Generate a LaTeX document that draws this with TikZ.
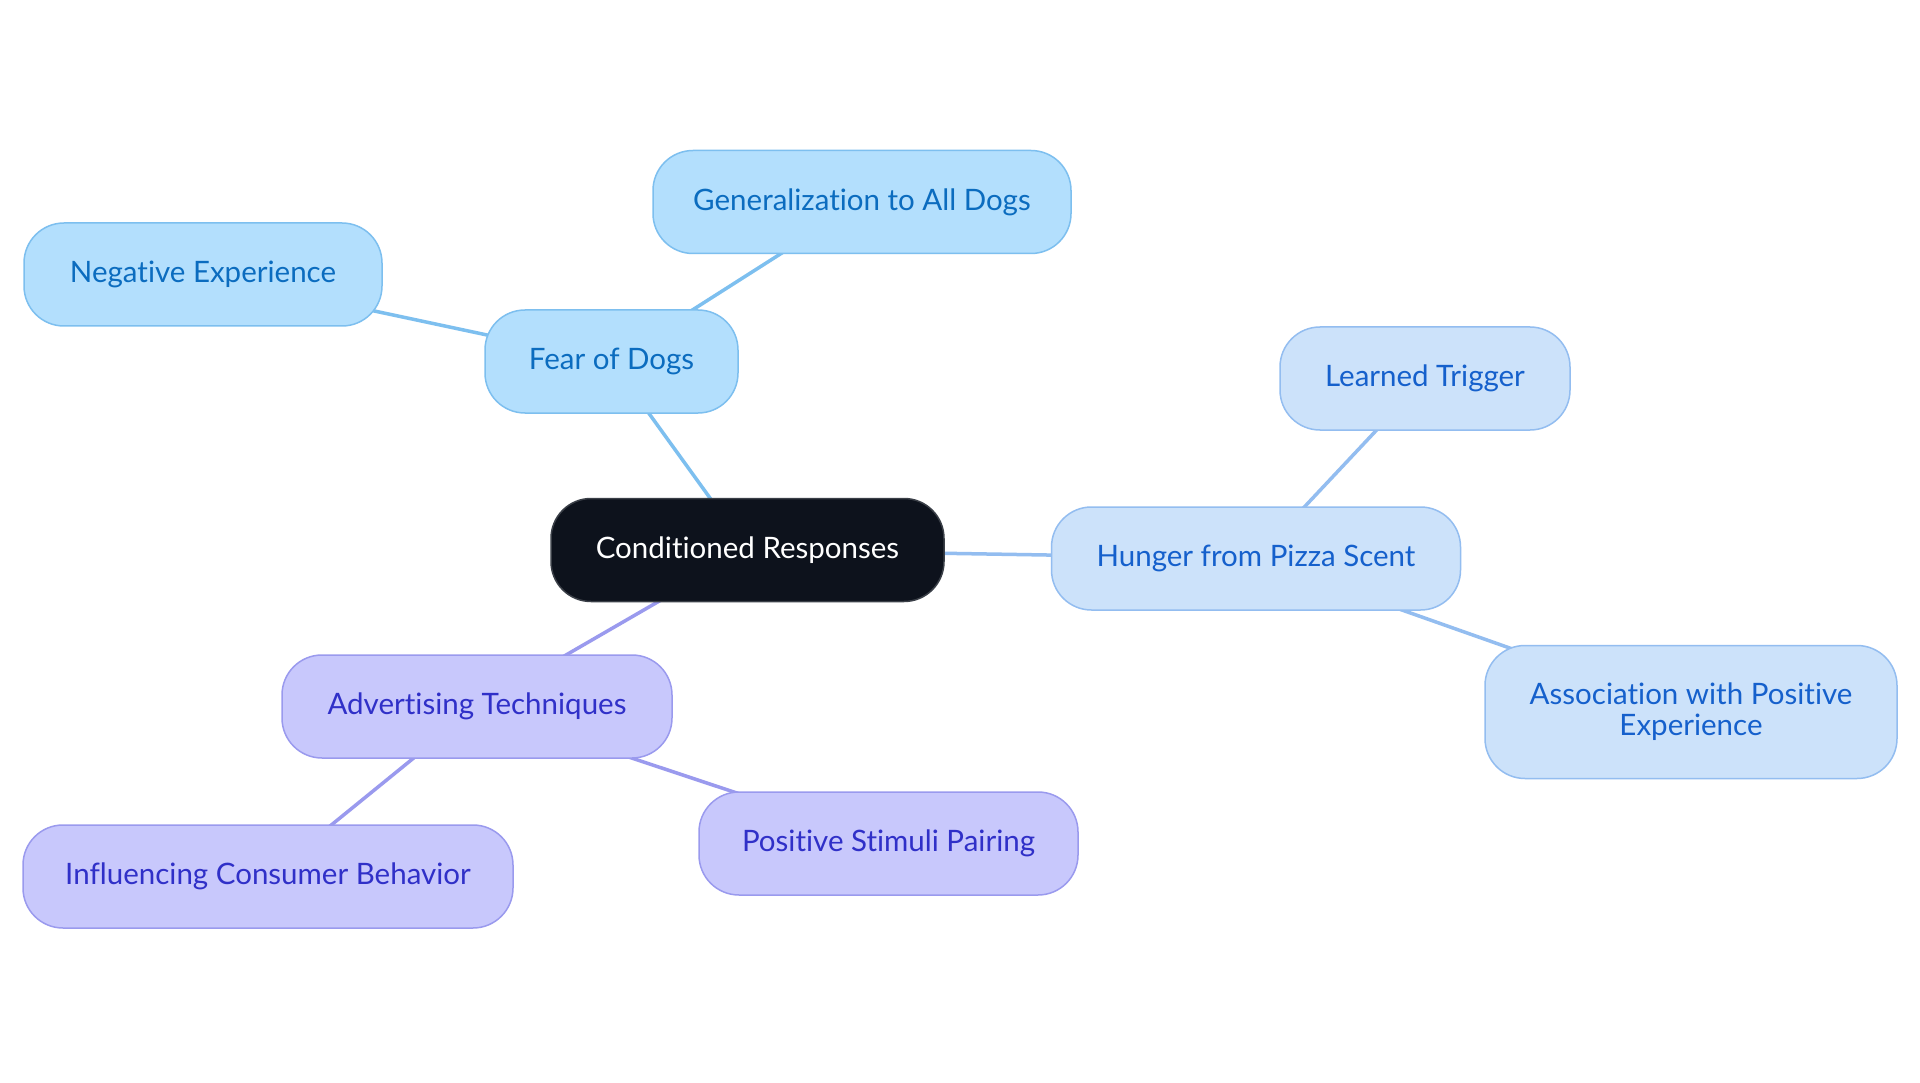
\documentclass[tikz,border=0pt]{standalone}
\usepackage{fontspec}
\setmainfont{Lato}[Ligatures={NoCommon}]
\usetikzlibrary{backgrounds}
\definecolor{rootfill}{HTML}{0D121C}
\definecolor{rootdraw}{HTML}{3A3F47}
\definecolor{fearfill}{HTML}{B3DFFD}
\definecolor{feardraw}{HTML}{7DBFEF}
\definecolor{feartext}{HTML}{0B6CBF}
\definecolor{hungfill}{HTML}{CCE2FA}
\definecolor{hungdraw}{HTML}{93BDF0}
\definecolor{hungtext}{HTML}{1560CC}
\definecolor{advfill}{HTML}{C8C8FC}
\definecolor{advdraw}{HTML}{9A9AEE}
\definecolor{advtext}{HTML}{3030C8}
\tikzset{
  box/.style={rounded corners=40pt, line width=1.5pt, inner sep=0pt, minimum height=103pt, align=center, font=\fontsize{29.5}{31}\selectfont},
  rootbox/.style={box, fill=rootfill, draw=rootdraw, text=white},
  fearbox/.style={box, fill=fearfill, draw=feardraw, text=feartext},
  hungbox/.style={box, fill=hungfill, draw=hungdraw, text=hungtext},
  advbox/.style={box, fill=advfill, draw=advdraw, text=advtext},
  fearline/.style={draw=feardraw, line width=3.5pt},
  hungline/.style={draw=hungdraw, line width=3.5pt},
  advline/.style={draw=advdraw, line width=3.5pt},
}
\begin{document}
\begin{tikzpicture}[x=1pt,y=-1pt]
\useasboundingbox (0,0) rectangle (1920,1083);
\node[rootbox, minimum width=393pt] (root) at (747.5,550) {Conditioned Responses};
\node[fearbox, minimum width=253pt] (fear) at (611.5,361.5) {Fear of Dogs};
\node[fearbox, minimum width=418pt] (gen) at (862,202) {Generalization to All Dogs};
\node[fearbox, minimum width=358pt] (neg) at (203,274.5) {Negative Experience};
\node[hungbox, minimum width=409pt] (hung) at (1256,558.5) {Hunger from Pizza Scent};
\node[hungbox, minimum width=290pt] (learn) at (1425,378.5) {Learned Trigger};
\node[hungbox, minimum width=412pt, minimum height=133pt] (assoc) at (1691,712) {Association with Positive\\Experience};
\node[advbox, minimum width=390pt] (adv) at (477,706.5) {Advertising Techniques};
\node[advbox, minimum width=379pt] (pos) at (888.5,843.5) {Positive Stimuli Pairing};
\node[advbox, minimum width=490pt] (infl) at (268,876.5) {Influencing Consumer Behavior};
\begin{scope}[on background layer]
\fill[white] (0,0) rectangle (1920,1083);
\draw[fearline] (root.center) -- (fear.center);
\draw[fearline] (fear.center) -- (gen.center);
\draw[fearline] (fear.center) -- (neg.center);
\draw[hungline] (root.center) -- (hung.center);
\draw[hungline] (hung.center) -- (learn.center);
\draw[hungline] (hung.center) -- (assoc.center);
\draw[advline] (root.center) -- (adv.center);
\draw[advline] (adv.center) -- (pos.center);
\draw[advline] (adv.center) -- (infl.center);
\end{scope}
\end{tikzpicture}
\end{document}
